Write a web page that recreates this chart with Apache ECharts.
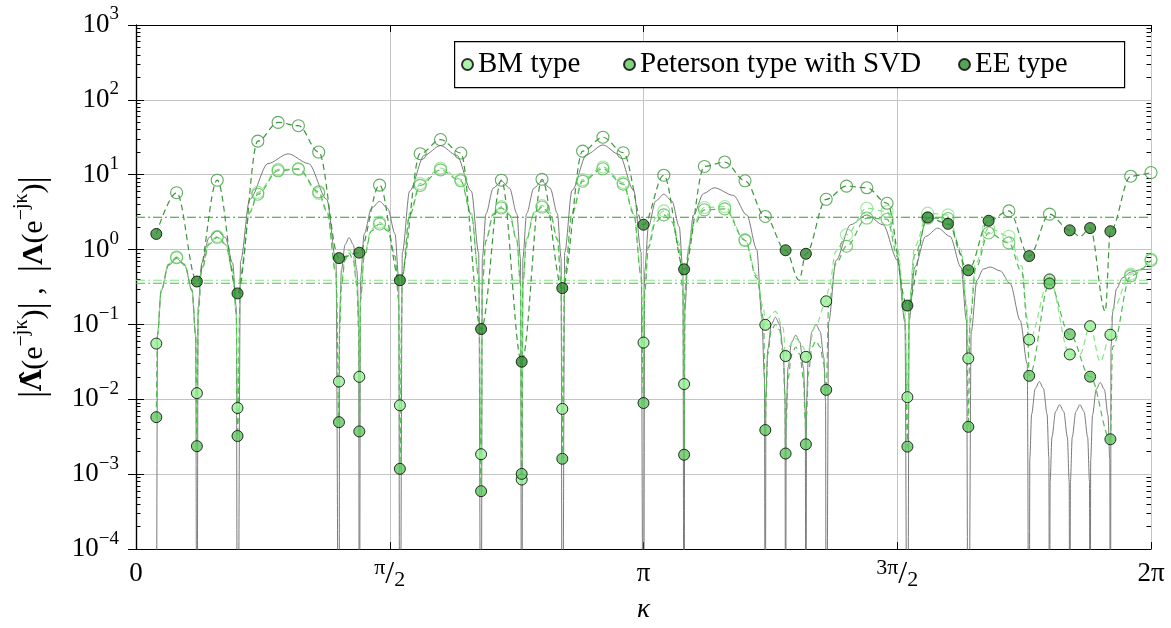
<!DOCTYPE html>
<html><head><meta charset="utf-8">
<script src="https://cdn.jsdelivr.net/npm/echarts@6/dist/echarts.min.js"></script>
<style>html,body{margin:0;padding:0;background:#fff}#c{width:1171px;height:628px}</style>
</head><body><div id="c"></div>
<script>
// ---- sample grid (kappa = 2*pi*k/50) ----
const kappaGrid = [0, 0.1257, 0.2513, 0.3770, 0.5027, 0.6283, 0.7540, 0.8796, 1.0053, 1.1310, 1.2566, 1.3823, 1.5080, 1.6336, 1.7593, 1.8850, 2.0106, 2.1363, 2.2619, 2.3876, 2.5133, 2.6389, 2.7646, 2.8903, 3.0159, 3.1416, 3.2673, 3.3929, 3.5186, 3.6442, 3.7699, 3.8956, 4.0212, 4.1469, 4.2726, 4.3982, 4.5239, 4.6496, 4.7752, 4.9009, 5.0265, 5.1522, 5.2779, 5.4035, 5.5292, 5.6549, 5.7805, 5.9062, 6.0319, 6.1575, 6.2832];

// ---- sampled estimates at the grid ----
const bmValues = [null, 0.0556, 0.80, 0.0121, 1.51, 0.00767, 5.81, 11.8, 11.8, 5.64, 0.0173, 0.02, 2.33, 0.00833, 7.65, 12.3, 8.7, 0.00185, 3.76, 0.00085, 3.88, 0.00745, 8.64, 12.7, 7.88, 0.0573, 3.29, 0.016, 3.65, 3.76, 1.36, 0.099, 0.0379, 0.037, 0.204, 1.58, 3.57, 3.23, 0.0107, 3.07, 2.91, 0.0352, 1.94, 1.51, 0.0628, 0.40, 0.0398, 0.095, 0.073, 0.47, 0.75];
const petValues = [null, 0.00578, 0.78, 0.00237, 1.46, 0.00324, 5.5, 11.3, 12.0, 5.9, 0.00496, 0.00373, 2.2, 0.00118, 7.2, 11.6, 8.3, 0.000594, 3.6, 0.00101, 3.7, 0.00161, 8.2, 12.0, 7.5, 0.00894, 2.91, 0.00182, 3.4, 3.5, 1.33, 0.00389, 0.00189, 0.00251, 0.0134, 1.11, 2.64, 2.55, 0.00234, 2.64, 2.6, 0.0043, 1.67, 1.23, 0.0206, 0.353, 0.074, 0.0201, 0.00293, 0.446, 0.72];
const eeValues = [null, 1.62, 5.76, 0.375, 8.46, 0.26, 28.1, 50, 45.2, 20.1, 0.77, 0.91, 7.26, 0.39, 19.1, 29.5, 19.5, 0.087, 8.46, 0.0318, 8.7, 0.306, 20.7, 31.7, 19.7, 2.15, 9.85, 0.546, 12.9, 14.8, 8.3, 2.77, 0.98, 0.88, 4.7, 7.05, 6.7, 4.16, 0.179, 2.69, 2.21, 0.53, 2.43, 3.29, 0.82, 2.98, 1.81, 1.94, 1.76, 9.55, 10.7];

// indices drawn as filled markers
const zeroIdx = [1, 3, 5, 10, 11, 13, 17, 19, 21, 25, 27, 31, 32, 33, 34, 38, 41, 44, 45, 46, 47, 48];
const eeFilledIdx = [1, 3, 5, 10, 11, 13, 17, 19, 21, 25, 27, 32, 33, 38, 39, 40, 41, 42, 44, 46, 47, 48];

// mean levels (dash-dot)
const bmLevel = 0.39, petLevel = 0.356, eeLevel = 2.7;

// ---- extra points of the dashed estimate curves between the grid samples ----
const bmExtra = [[0.1332,0.075],[0.1559,0.29],[0.2011,0.64],[0.3016,0.64],[0.3468,0.29],[0.3695,0.075],
[0.3845,0.14],[0.4072,0.55],[0.4524,1.22],[0.5529,1.22],[0.5982,0.55],[0.6208,0.14],
[0.6471,0.48],[0.7037,3.2],[1.1812,3.2],[1.2378,0.48],
[1.2604,0.094],[1.2717,0.37],[1.2943,0.81],[1.3194,1.0],[1.3446,0.81],[1.3672,0.37],[1.3785,0.094],
[1.3898,0.22],[1.4125,0.86],[1.4577,1.88],[1.5582,1.88],[1.6035,0.86],[1.6261,0.22],
[1.6487,0.46],[1.6939,3.1],[2.0759,3.1],[2.1212,0.46],
[2.1438,0.35],[2.1665,1.38],[2.2117,3.04],[2.3122,3.04],[2.3575,1.38],[2.3801,0.35],
[2.3951,0.36],[2.4178,1.43],[2.4630,3.14],[2.5635,3.14],[2.6088,1.43],[2.6314,0.36],
[2.6540,0.47],[2.6992,3.16],[3.0812,3.16],[3.1265,0.47],
[3.1491,0.31],[3.1718,1.21],[3.2170,2.66],[3.3175,2.66],[3.3628,1.21],[3.3854,0.31],
[3.3980,0.3],[3.4200,1.1],[3.4510,2.3],[3.8430,0.45],[3.8850,0.16],
[3.9107,0.12],[3.9584,0.15],[4.0062,0.09],
[4.0363,0.05],[4.0840,0.065],[4.1318,0.05],
[4.2097,0.1],
[4.2877,0.3],[4.3329,0.95],[4.7149,1.0],[4.7601,0.15],
[4.7865,0.21],[4.8204,1.1],[5.1070,1.0],[5.1409,0.2],
[5.1635,0.13],[5.1974,0.66],[5.4840,0.6],[5.5179,0.12],
[5.8430,0.04],[5.9690,0.032],[6.0450,0.16]];

const petExtra = [[0.1332,0.073],[0.1559,0.287],[0.2011,0.63],[0.3016,0.63],[0.3468,0.287],[0.3695,0.073],
[0.3845,0.137],[0.4072,0.54],[0.4524,1.18],[0.5529,1.18],[0.5982,0.54],[0.6208,0.137],
[0.6471,0.46],[0.7037,3.1],[1.1812,3.3],[1.2378,0.5],
[1.2604,0.085],[1.2717,0.33],[1.2943,0.73],[1.3194,0.9],[1.3446,0.73],[1.3672,0.33],[1.3785,0.085],
[1.3898,0.21],[1.4125,0.81],[1.4577,1.78],[1.5582,1.78],[1.6035,0.81],[1.6261,0.21],
[1.6487,0.43],[1.6939,2.9],[2.0759,2.95],[2.1212,0.44],
[2.1438,0.34],[2.1665,1.32],[2.2117,2.91],[2.3122,2.91],[2.3575,1.32],[2.3801,0.34],
[2.3951,0.35],[2.4178,1.36],[2.4630,2.99],[2.5635,2.99],[2.6088,1.36],[2.6314,0.35],
[2.6540,0.45],[2.6992,3.0],[3.0812,3.0],[3.1265,0.45],
[3.1491,0.27],[3.1718,1.07],[3.2170,2.35],[3.3175,2.35],[3.3628,1.07],[3.3854,0.27],
[3.3980,0.28],[3.4200,1.0],[3.4510,2.1],[3.8430,0.42],[3.8850,0.12],
[3.8994,0.01],[3.9107,0.04],[3.9333,0.085],[3.9584,0.1],[3.9836,0.085],[4.0062,0.04],[4.0175,0.01],
[4.0250,0.005],[4.0363,0.019],[4.0589,0.04],[4.0840,0.05],[4.1092,0.04],[4.1318,0.019],[4.1431,0.005],
[4.1507,0.006],[4.1620,0.022],[4.1846,0.05],[4.2097,0.06],[4.2349,0.05],[4.2575,0.03],[4.2688,0.016],
[4.2877,0.18],[4.3329,0.65],[4.7149,0.8],[4.7601,0.12],
[4.7865,0.16],[4.8204,0.85],[5.1070,0.88],[5.1409,0.17],
[5.1635,0.11],[5.1974,0.56],[5.4840,0.5],[5.5179,0.1],
[6.0450,0.05]];

const eeExtra = [[4.105,0.39],[5.845,1.5],[6.000,0.15]];

// ---- true response |Lambda(e^{-j kappa})| (gray) ----
const trueCurve = [
[0.1257,1e-7],
[0.1332,0.0714],[0.1559,0.28],[0.2011,0.615],[0.2514,0.76],[0.3016,0.615],[0.3469,0.28],[0.3695,0.0714],
[0.3770,1e-7],
[0.3845,0.169],[0.4072,0.662],[0.4524,1.456],[0.5027,1.8],[0.5529,1.456],[0.5982,0.662],[0.6208,0.169],
[0.6283,1e-7],
[0.6471,0.70],[0.7037,4.69],[0.8168,14.1],[0.9425,19],[1.0681,14.1],[1.1812,4.69],[1.2378,0.70],
[1.2566,1e-7],
[1.2604,0.136],[1.2717,0.534],[1.2943,1.17],[1.3194,1.45],[1.3446,1.17],[1.3672,0.534],[1.3785,0.136],
[1.3823,1e-7],
[1.3898,0.414],[1.4125,1.62],[1.4577,3.56],[1.5080,4.4],[1.5582,3.56],[1.6035,1.62],[1.6261,0.414],
[1.6336,1e-7],
[1.6487,0.91],[1.6939,6.05],[1.7844,18.2],[1.8849,24.5],[1.9855,18.2],[2.0759,6.05],[2.1212,0.91],
[2.1363,1e-7],
[2.1438,0.77],[2.1665,3.02],[2.2117,6.63],[2.2620,8.2],[2.3122,6.63],[2.3575,3.02],[2.3801,0.77],
[2.3876,1e-7],
[2.3951,0.77],[2.4178,3.02],[2.4630,6.63],[2.5133,8.2],[2.5635,6.63],[2.6088,3.02],[2.6314,0.77],
[2.6389,1e-7],
[2.6540,0.925],[2.6992,6.18],[2.7897,18.6],[2.8902,25],[2.9908,18.6],[3.0812,6.18],[3.1265,0.925],
[3.1416,1e-7],
[3.1491,0.517],[3.1718,2.02],[3.2170,4.45],[3.2673,5.5],[3.3175,4.45],[3.3628,2.02],[3.3854,0.517],
[3.3929,1e-7],
[3.3970,0.15],[3.4200,1.0],[3.4510,2.9],[3.5130,5.6],[3.5790,6.7],[3.6980,5.3],[3.7810,2.9],[3.8430,1.0],[3.8740,0.125],[3.8900,0.02],
[3.8956,1e-7],
[3.8994,0.0118],[3.9107,0.046],[3.9333,0.101],[3.9584,0.125],[3.9836,0.101],[4.0062,0.046],[4.0175,0.0118],
[4.0212,1e-7],
[4.0250,0.0068],[4.0363,0.0265],[4.0589,0.0583],[4.0840,0.072],[4.1092,0.0583],[4.1318,0.0265],[4.1431,0.0068],
[4.1469,1e-7],
[4.1507,0.0094],[4.1620,0.0368],[4.1846,0.081],[4.2097,0.10],[4.2349,0.081],[4.2575,0.0368],[4.2688,0.0094],
[4.2726,1e-7],
[4.2877,0.107],[4.3329,0.716],[4.4234,2.15],[4.5239,2.9],[4.6245,2.15],[4.7149,0.716],[4.7601,0.107],
[4.7752,1e-7],
[4.7865,0.113],[4.8204,0.582],[4.8883,1.50],[4.9637,1.94],[5.0391,1.50],[5.1070,0.582],[5.1409,0.113],
[5.1522,1e-7],
[5.1703,0.08],[5.2056,0.39],[5.2446,0.55],[5.2879,0.586],[5.3498,0.52],[5.4118,0.35],[5.4737,0.113],[5.5170,0.03],
[5.5292,1e-7],
[5.5330,0.00163],[5.5443,0.00637],[5.5669,0.014],[5.5920,0.0173],[5.6172,0.014],[5.6398,0.00637],[5.6511,0.00163],
[5.6549,1e-7],
[5.6587,0.0008],[5.6700,0.00313],[5.6926,0.00688],[5.7177,0.0085],[5.7429,0.00688],[5.7655,0.00313],[5.7768,0.0008],
[5.7805,1e-7],
[5.7843,0.0008],[5.7956,0.00313],[5.8182,0.00688],[5.8433,0.0085],[5.8685,0.00688],[5.8911,0.00313],[5.9024,0.0008],
[5.9062,1e-7],
[5.9100,0.00158],[5.9213,0.00618],[5.9439,0.0136],[5.9690,0.0168],[5.9942,0.0136],[6.0168,0.00618],[6.0281,0.00158],
[6.0319,1e-7],
[6.0357,0.05],[6.0470,0.15],[6.0696,0.3],[6.1072,0.42],[6.1575,0.5],[6.2204,0.54],[6.2832,0.55]];

// tick labels
const xTickLabels = ['{a|0}', '{t|π}{s|/}{d|2}', '{a|π}', '{t|3π}{s|/}{d|2}', '{a|2π}'];
const seriesNames = ['BM type', 'Peterson type with SVD', 'EE type'];

// ---- helpers ----
function samplePts(vals, pick) {
  const out = [];
  for (let k = 0; k < kappaGrid.length; k++) {
    if (vals[k] == null) continue;
    if (pick(k)) out.push([kappaGrid[k], vals[k]]);
  }
  return out;
}
function curvePts(vals, extra) {
  return samplePts(vals, () => true).concat(extra).sort((a, b) => a[0] - b[0]);
}
const FONT = 'Liberation Serif';
const C = {
  bm: '#97f097', pet: '#62c862', ee: '#2e8b2e',
  bmL: '#86e686', petL: '#55b955', eeL: '#3a963a'
};
const TWO_PI = 2 * Math.PI;
const minorVals = [];
for (let e = -4; e < 3; e++) for (let m = 2; m <= 9; m++) minorVals.push(Number((m * Math.pow(10, e)).toPrecision(3)));

const yFmt = v => {
  const e = Math.round(Math.log10(v));
  return '{b|10}{e|' + (e < 0 ? '\u2212' + (-e) : e) + '}';
};

function dashedLine(name, data, color) {
  return { type: 'line', name, data, showSymbol: false, smooth: 0.35, smoothMonotone: 'x', clip: true,
    lineStyle: { color, width: 1.2, type: [6, 4] }, z: 3, silent: true };
}
function levelLine(name, v, color) {
  return { type: 'line', name, data: [[0, v], [TWO_PI, v]], showSymbol: false, clip: true,
    lineStyle: { color, width: 1.1, type: [9, 3, 2, 3] }, z: 2, silent: true };
}
function openPts(name, data, color) {
  return { type: 'scatter', name, data, symbol: 'circle', symbolSize: 12,
    itemStyle: { color: 'rgba(255,255,255,0)', borderColor: color, borderWidth: 1.1 }, z: 4, silent: true };
}
function filledPts(name, data, color) {
  return { type: 'scatter', name, data, symbol: 'circle', symbolSize: 11,
    itemStyle: { color, borderColor: '#000', borderWidth: 1 }, z: 6, silent: true };
}

const chart = echarts.init(document.getElementById('c'), null, { renderer: 'canvas' });
const axisBase = { min: 0, max: TWO_PI, interval: Math.PI / 2 };
const logBase = { type: 'log', logBase: 10, min: 1e-4, max: 1e3 };
const legendCommon = { orient: 'horizontal', padding: 0, itemWidth: 11, itemHeight: 11, z: 20,
  textStyle: { fontFamily: FONT, fontSize: 29, color: '#000' } };

chart.setOption({
  animation: false,
  backgroundColor: '#fff',
  grid: { left: 136, right: 20, top: 25, bottom: 74 },
  graphic: [{ type: 'rect', left: 454, top: 41, z: 10,
    shape: { width: 670, height: 46 }, style: { fill: '#fff', stroke: '#000', lineWidth: 1.2 } }],
  legend: [
    Object.assign({ data: [seriesNames[0]], left: 461, top: 50 }, legendCommon),
    Object.assign({ data: [seriesNames[1]], left: 623, top: 50 }, legendCommon),
    Object.assign({ data: [seriesNames[2]], left: 958, top: 50 }, legendCommon)
  ],
  xAxis: [
    Object.assign({ type: 'value', position: 'bottom',
      name: 'κ', nameLocation: 'middle', nameGap: 40,
      nameTextStyle: { fontFamily: FONT, fontSize: 27, fontStyle: 'italic', color: '#000' },
      axisLine: { show: true, lineStyle: { color: '#000', width: 1.2 } },
      axisTick: { show: true, inside: true, length: 7, lineStyle: { color: '#000' } },
      axisLabel: { margin: 8, color: '#000', formatter: v => xTickLabels[Math.round(v / (Math.PI / 2))],
        rich: {
          a: { fontFamily: FONT, fontSize: 27, lineHeight: 34, color: '#000' },
          t: { fontFamily: FONT, fontSize: 22, lineHeight: 22, verticalAlign: 'top', color: '#000' },
          s: { fontFamily: FONT, fontSize: 32, lineHeight: 34, color: '#000' },
          d: { fontFamily: FONT, fontSize: 22, lineHeight: 22, verticalAlign: 'bottom', color: '#000' }
        } },
      splitLine: { show: true, lineStyle: { color: '#c4c4c4', width: 1 } } }, axisBase),
    Object.assign({ type: 'value', position: 'top',
      axisLine: { show: true, lineStyle: { color: '#000', width: 1.2 } },
      axisTick: { show: true, inside: true, length: 7, lineStyle: { color: '#000' } },
      axisLabel: { show: false }, splitLine: { show: false } }, axisBase)
  ],
  yAxis: [
    Object.assign({ position: 'left',
      name: '{p||}{h|\u039B\u0302}{t|(e}{s|\u2212jκ}{t|)}{p||}{t| ,  }{p||}{b|Λ}{t|(e}{s|\u2212jκ}{t|)}{p||}',
      nameLocation: 'middle', nameRotate: 90, nameGap: 80,
      nameTextStyle: { color: '#000', rich: {
        p: { fontFamily: FONT, fontSize: 36, lineHeight: 44, color: '#000' },
        t: { fontFamily: FONT, fontSize: 30, lineHeight: 44, color: '#000' },
        b: { fontFamily: FONT, fontSize: 30, lineHeight: 44, fontWeight: 'bold', color: '#000' },
        h: { fontFamily: 'DejaVu Serif', fontSize: 27, lineHeight: 44, fontWeight: 'bold', color: '#000' },
        s: { fontFamily: FONT, fontSize: 20, lineHeight: 20, verticalAlign: 'top', color: '#000' }
      } },
      axisLine: { show: true, lineStyle: { color: '#000', width: 1.2 } },
      axisTick: { show: true, inside: true, length: 8, lineStyle: { color: '#000' } },
      axisLabel: { margin: 17, color: '#000', formatter: yFmt, rich: {
        b: { fontFamily: FONT, fontSize: 27, lineHeight: 40, color: '#000' },
        e: { fontFamily: FONT, fontSize: 19, lineHeight: 19, verticalAlign: 'top', color: '#000' }
      } },
      splitLine: { show: true, lineStyle: { color: '#c4c4c4', width: 1 } } }, logBase),
    Object.assign({ position: 'right',
      axisLine: { show: true, lineStyle: { color: '#000', width: 1.2 } },
      axisTick: { show: true, inside: true, length: 8, lineStyle: { color: '#000' } },
      axisLabel: { show: false }, splitLine: { show: false } }, logBase),
    Object.assign({ position: 'left', axisLine: { show: false },
      axisTick: { show: true, inside: true, length: 4.5, customValues: minorVals, lineStyle: { color: '#000' } },
      axisLabel: { show: false }, splitLine: { show: false } }, logBase),
    Object.assign({ position: 'right', axisLine: { show: false },
      axisTick: { show: true, inside: true, length: 4.5, customValues: minorVals, lineStyle: { color: '#000' } },
      axisLabel: { show: false }, splitLine: { show: false } }, logBase)
  ],
  series: [
    { type: 'line', name: 'true', data: trueCurve, showSymbol: false, smooth: 0.3, smoothMonotone: 'x', clip: true,
      lineStyle: { color: '#7a7a7a', width: 1 }, z: 2, silent: true },
    levelLine('bmLevel', bmLevel, C.bmL),
    levelLine('petLevel', petLevel, C.petL),
    levelLine('eeLevel', eeLevel, C.eeL),
    dashedLine('bmCurve', curvePts(bmValues, bmExtra), C.bmL),
    dashedLine('petCurve', curvePts(petValues, petExtra), C.petL),
    dashedLine('eeCurve', curvePts(eeValues, eeExtra), C.eeL),
    openPts('bmOpen', samplePts(bmValues, k => zeroIdx.indexOf(k) < 0), C.bmL),
    openPts('petOpen', samplePts(petValues, k => zeroIdx.indexOf(k) < 0), C.petL),
    openPts('eeOpen', samplePts(eeValues, k => eeFilledIdx.indexOf(k) < 0), C.eeL),
    filledPts(seriesNames[0], samplePts(bmValues, k => zeroIdx.indexOf(k) >= 0), C.bm),
    filledPts(seriesNames[1], samplePts(petValues, k => zeroIdx.indexOf(k) >= 0), C.pet),
    filledPts(seriesNames[2], samplePts(eeValues, k => eeFilledIdx.indexOf(k) >= 0), C.ee)
  ]
});
</script></body></html>
